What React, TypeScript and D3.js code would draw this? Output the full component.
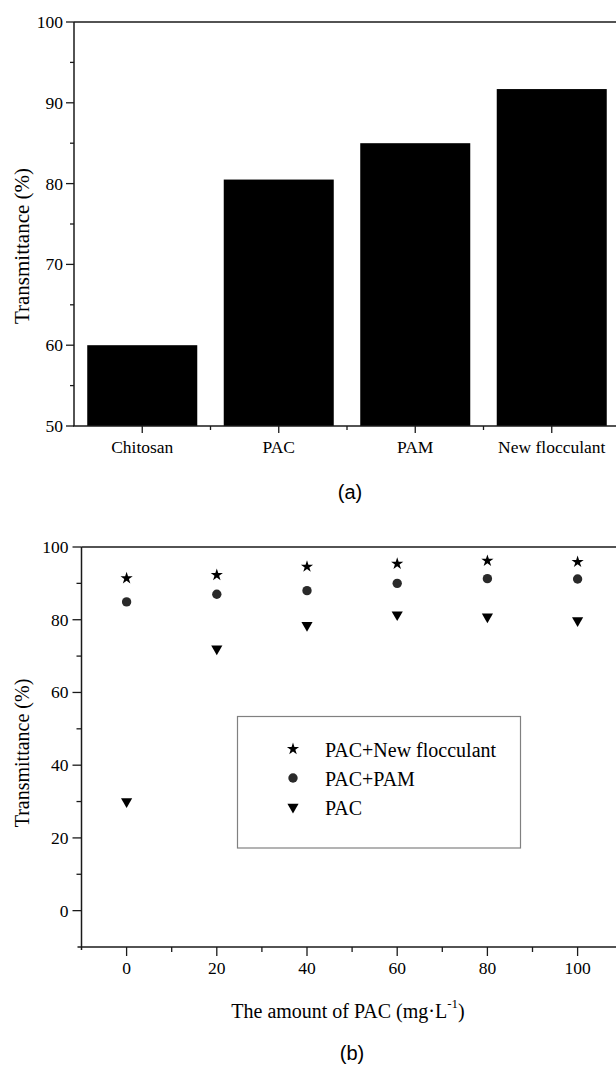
import React from "react";
import * as d3 from "d3";

const categoriesA = ["Chitosan", "PAC", "PAM", "New flocculant"];
const valuesA = [60.0, 80.5, 85.0, 91.7];
const yTicksA = [50, 60, 70, 80, 90, 100];
const yMinorA = [55, 65, 75, 85, 95];

const dosesB = [0, 20, 40, 60, 80, 100];
const seriesNames = ["PAC+New flocculant", "PAC+PAM", "PAC"];
const newFlocValues = [91.4, 92.3, 94.6, 95.4, 96.2, 95.9];
const pamValues = [84.9, 87.0, 88.0, 90.0, 91.3, 91.2];
const pacValues = [30.0, 72.0, 78.5, 81.4, 80.8, 79.8];
const yTicksB = [0, 20, 40, 60, 80, 100];
const yMinorB = [10, 30, 50, 70, 90];
const xTicksB = [0, 20, 40, 60, 80, 100];
const xMinorB = [10, 30, 50, 70, 90];

const SERIF = "'Liberation Serif', 'Times New Roman', serif";
const SANS = "'Liberation Sans', Arial, sans-serif";
const AX = "#1a1a1a";

export default function App() {
  // Panel (a)
  const xA = d3.scaleBand<string>().domain(categoriesA).range([74, 620]).paddingInner(0.194).paddingOuter(0.097);
  const yA = d3.scaleLinear().domain([50, 100]).range([426, 22]);
  const stepA = xA.step();

  // Panel (b)
  const xB = d3.scaleLinear().domain([-10, 110]).range([81.5, 622.7]);
  const yB = d3.scaleLinear().domain([-10, 100]).range([947, 547]);

  const star = d3.symbol().type(d3.symbolStar).size(46)()!;
  const circle = d3.symbol().type(d3.symbolCircle).size(69)()!;
  const tri = d3.symbol().type(d3.symbolTriangle).size(54)()!;

  const series = [
    { name: seriesNames[0], values: newFlocValues, path: star, rot: 0, fill: "#000" },
    { name: seriesNames[1], values: pamValues, path: circle, rot: 0, fill: "#2a2a2a" },
    { name: seriesNames[2], values: pacValues, path: tri, rot: 180, fill: "#000" },
  ];

  const y0A = yA.range()[0];
  const x0A = 74;
  const x0B = xB.range()[0];
  const yAxB = yB(-10);

  return (
    <svg width={616} height={1068} style={{ position: "absolute", left: 0, top: 0, background: "#fff" }}>
      <rect x={0} y={0} width={616} height={1068} fill="#fff" />
      {/* ---------- Panel (a) ---------- */}
      <g>
        {categoriesA.map((c, i) => (
          <rect key={c} x={xA(c)!} y={yA(valuesA[i])} width={xA.bandwidth()} height={y0A - yA(valuesA[i])} fill="#000" />
        ))}
        <line x1={x0A} x2={616} y1={yA(100)} y2={yA(100)} stroke={AX} strokeWidth={1.5} />
        <line x1={x0A} x2={x0A} y1={yA(100)} y2={y0A} stroke={AX} strokeWidth={1.5} />
        <line x1={x0A - 1} x2={616} y1={y0A} y2={y0A} stroke={AX} strokeWidth={1.5} />
        {yTicksA.map((t) => (
          <g key={t}>
            <line x1={x0A - 8} x2={x0A} y1={yA(t)} y2={yA(t)} stroke={AX} strokeWidth={1.3} />
            <text x={x0A - 11} y={yA(t)} textAnchor="end" dominantBaseline="central" fontFamily={SERIF} fontSize={17.5}>{t}</text>
          </g>
        ))}
        {yMinorA.map((t) => (
          <line key={t} x1={x0A - 4} x2={x0A} y1={yA(t)} y2={yA(t)} stroke={AX} strokeWidth={1.3} />
        ))}
        {categoriesA.map((c) => {
          const cx = xA(c)! + xA.bandwidth() / 2;
          return (
            <g key={c}>
              <line x1={cx} x2={cx} y1={y0A} y2={y0A + 7} stroke={AX} strokeWidth={1.3} />
              <text x={cx} y={y0A + 21} textAnchor="middle" dominantBaseline="central" fontFamily={SERIF} fontSize={17.5}>{c}</text>
            </g>
          );
        })}
        {categoriesA.slice(1).map((c) => {
          const bx = xA(c)! + xA.bandwidth() / 2 - stepA / 2;
          return <line key={c} x1={bx} x2={bx} y1={y0A} y2={y0A + 4} stroke={AX} strokeWidth={1.3} />;
        })}
        <text transform={`translate(22,${(yA(100) + y0A) / 2 + 22}) rotate(-90)`} textAnchor="middle" dominantBaseline="central" fontFamily={SERIF} fontSize={21}>Transmittance (%)</text>
        <text x={350} y={492} textAnchor="middle" dominantBaseline="central" fontFamily={SANS} fontSize={20}>(a)</text>
      </g>

      {/* ---------- Panel (b) ---------- */}
      <g>
        <line x1={x0B} x2={616} y1={yB(100)} y2={yB(100)} stroke={AX} strokeWidth={1.5} />
        <line x1={x0B} x2={x0B} y1={yB(100)} y2={yAxB + 3} stroke={AX} strokeWidth={1.5} />
        <line x1={x0B - 4} x2={616} y1={yAxB} y2={yAxB} stroke={AX} strokeWidth={1.5} />
        {yTicksB.map((t) => (
          <g key={t}>
            <line x1={x0B - 9} x2={x0B} y1={yB(t)} y2={yB(t)} stroke={AX} strokeWidth={1.3} />
            <text x={x0B - 13} y={yB(t)} textAnchor="end" dominantBaseline="central" fontFamily={SERIF} fontSize={17.5}>{t}</text>
          </g>
        ))}
        {yMinorB.map((t) => (
          <line key={t} x1={x0B - 5} x2={x0B} y1={yB(t)} y2={yB(t)} stroke={AX} strokeWidth={1.3} />
        ))}
        {xTicksB.map((t) => (
          <g key={t}>
            <line x1={xB(t)} x2={xB(t)} y1={yAxB} y2={yAxB + 9} stroke={AX} strokeWidth={1.3} />
            <text x={xB(t)} y={yAxB + 21} textAnchor="middle" dominantBaseline="central" fontFamily={SERIF} fontSize={17.5}>{t}</text>
          </g>
        ))}
        {xMinorB.map((t) => (
          <line key={t} x1={xB(t)} x2={xB(t)} y1={yAxB} y2={yAxB + 5} stroke={AX} strokeWidth={1.3} />
        ))}
        {series.map((s) =>
          s.values.map((v, i) => (
            <path key={s.name + i} d={s.path} fill={s.fill} transform={`translate(${xB(dosesB[i])},${yB(v)}) rotate(${s.rot})`} />
          ))
        )}
        <rect x={237.5} y={716.5} width={283} height={131.5} fill="none" stroke="#808080" strokeWidth={1.2} />
        {series.map((s, i) => (
          <g key={s.name}>
            <path d={s.path} fill={s.fill} transform={`translate(293,${749 + i * 29}) rotate(${s.rot})`} />
            <text x={325} y={750 + i * 29} dominantBaseline="central" fontFamily={SERIF} fontSize={20}>{s.name}</text>
          </g>
        ))}
        <text transform={`translate(22,753) rotate(-90)`} textAnchor="middle" dominantBaseline="central" fontFamily={SERIF} fontSize={20}>Transmittance (%)</text>
        <text x={348} y={1011} textAnchor="middle" dominantBaseline="central" fontFamily={SERIF} fontSize={20}>
          The amount of PAC (mg·L<tspan dy={-8} fontSize={13}>-1</tspan><tspan dy={8}>)</tspan>
        </text>
        <text x={352} y={1053} textAnchor="middle" dominantBaseline="central" fontFamily={SANS} fontSize={20}>(b)</text>
      </g>
    </svg>
  );
}
